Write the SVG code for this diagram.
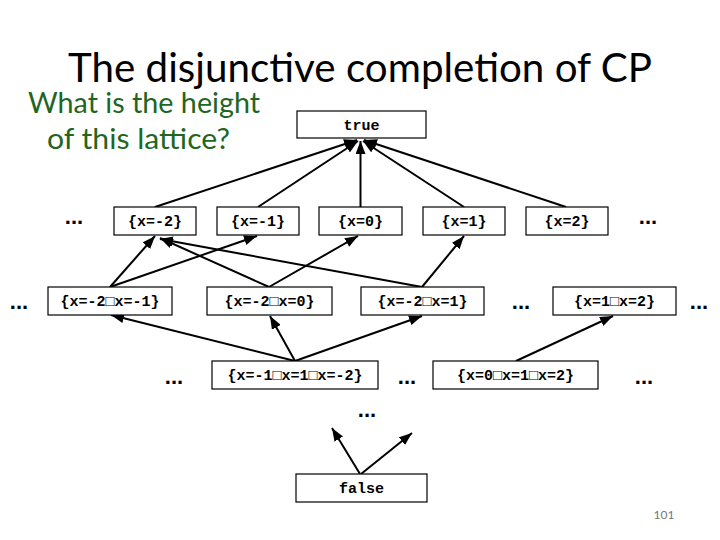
<svg xmlns="http://www.w3.org/2000/svg" width="720" height="540" viewBox="0 0 720 540">
<style>
.box{fill:#fff;stroke:#000;stroke-width:1.2}
.lbl{font-family:"Liberation Mono","DejaVu Sans Mono",monospace;font-weight:bold;font-size:15px;text-anchor:middle;fill:#000}
.dots{font-family:"Liberation Sans",Arial,sans-serif;font-weight:bold;font-size:22px;text-anchor:middle;fill:#000}
.edge{stroke:#000;stroke-width:2;fill:none;marker-end:url(#ah)}
.title{font-family:Lato,"Noto Sans",sans-serif;font-size:40px;fill:#000}
.q{font-family:Lato,"Noto Sans",sans-serif;font-size:28px;fill:#1f661f}
</style>
<defs>
<marker id="ah" markerUnits="userSpaceOnUse" markerWidth="14" markerHeight="10" refX="13" refY="5" orient="auto">
<path d="M0,0 L13,5 L0,10 z" fill="#000"/>
</marker>
</defs>
<rect width="720" height="540" fill="#fff"/>
<text class="title" x="360" y="82" text-anchor="middle" textLength="584" lengthAdjust="spacingAndGlyphs">The disjunctive completion of CP</text>
<text class="q" x="28" y="113" textLength="232" lengthAdjust="spacingAndGlyphs">What is the height</text>
<text class="q" x="47" y="149" textLength="183" lengthAdjust="spacingAndGlyphs">of this lattice?</text>
<g id="connectors">
<line class="edge" x1="155" y1="207" x2="357" y2="140"/>
<line class="edge" x1="258" y1="207" x2="358" y2="141"/>
<line class="edge" x1="360.5" y1="207" x2="360.5" y2="141"/>
<line class="edge" x1="464" y1="207" x2="363" y2="141"/>
<line class="edge" x1="566" y1="207" x2="364" y2="140"/>
<line class="edge" x1="110" y1="287" x2="155" y2="236"/>
<line class="edge" x1="110" y1="287" x2="257" y2="236"/>
<line class="edge" x1="269" y1="287" x2="160" y2="238"/>
<line class="edge" x1="269" y1="287" x2="358" y2="236"/>
<line class="edge" x1="422" y1="287" x2="160" y2="239"/>
<line class="edge" x1="422" y1="287" x2="464" y2="236"/>
<line class="edge" x1="295" y1="361" x2="111" y2="315"/>
<line class="edge" x1="295" y1="361" x2="270" y2="316"/>
<line class="edge" x1="295" y1="361" x2="422" y2="316"/>
<line class="edge" x1="516" y1="361" x2="613" y2="316"/>
<line class="edge" x1="360" y1="474" x2="332" y2="428"/>
<line class="edge" x1="361" y1="474" x2="412" y2="433"/>
</g>
<g id="n_true"><rect class="box" x="297" y="111" width="129" height="27"/><text class="lbl" x="361.5" y="130">true</text></g>
<g id="n_xm2"><rect class="box" x="114" y="207" width="82" height="28"/><text class="lbl" x="155" y="226">{x=-2}</text></g>
<g id="n_xm1"><rect class="box" x="217" y="207" width="82" height="28"/><text class="lbl" x="258" y="226">{x=-1}</text></g>
<g id="n_x0"><rect class="box" x="319" y="207" width="83" height="28"/><text class="lbl" x="360.5" y="226">{x=0}</text></g>
<g id="n_x1"><rect class="box" x="423" y="207" width="82" height="28"/><text class="lbl" x="464" y="226">{x=1}</text></g>
<g id="n_x2"><rect class="box" x="526" y="207" width="82" height="28"/><text class="lbl" x="567" y="226">{x=2}</text></g>
<g id="n_a"><rect class="box" x="48" y="287" width="124" height="28"/><text class="lbl" x="110" y="306">{x=-2□x=-1}</text></g>
<g id="n_b"><rect class="box" x="207" y="287" width="125" height="28"/><text class="lbl" x="269.5" y="306">{x=-2□x=0}</text></g>
<g id="n_c"><rect class="box" x="361" y="287" width="123" height="28"/><text class="lbl" x="422.5" y="306">{x=-2□x=1}</text></g>
<g id="n_d"><rect class="box" x="553" y="287" width="123" height="28"/><text class="lbl" x="614.5" y="306">{x=1□x=2}</text></g>
<g id="n_e"><rect class="box" x="212" y="361" width="166" height="28"/><text class="lbl" x="295" y="380">{x=-1□x=1□x=-2}</text></g>
<g id="n_f"><rect class="box" x="433" y="361" width="165" height="28"/><text class="lbl" x="515.5" y="380">{x=0□x=1□x=2}</text></g>
<g id="n_false"><rect class="box" x="296" y="474" width="131" height="28"/><text class="lbl" x="361.5" y="493">false</text></g>
<g id="ellipses">
<text class="dots" x="74" y="224">...</text>
<text class="dots" x="648" y="224">...</text>
<text class="dots" x="19" y="309">...</text>
<text class="dots" x="521" y="309">...</text>
<text class="dots" x="699" y="309">...</text>
<text class="dots" x="174" y="384">...</text>
<text class="dots" x="407" y="384">...</text>
<text class="dots" x="644" y="384">...</text>
<text class="dots" x="367" y="417">...</text>
</g>
<text x="664" y="519" font-family="Lato,'Noto Sans',sans-serif" font-size="12" fill="#777" text-anchor="middle">101</text>
</svg>
